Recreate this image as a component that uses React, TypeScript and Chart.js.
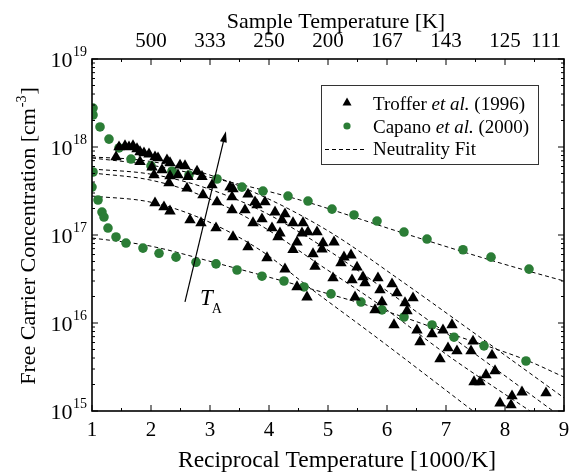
import React, { useEffect, useRef } from 'react';
import { Chart, registerables } from 'chart.js';

Chart.register(...registerables);

const FONT = '"Liberation Serif", "Times New Roman", Times, serif';
const GREEN = '#2b7d36';

// ---- axis ticks ----
const xTicks = [1, 2, 3, 4, 5, 6, 7, 8, 9];
const xMinorTicks = [1.5, 2.5, 3.5, 4.5, 5.5, 6.5, 7.5, 8.5];
const topTickValues = [2, 3, 4, 5, 6, 7, 8, 9];
const topTickLabels = ['500', '333', '250', '200', '167', '143', '125', '111'];
const yDecades = [15, 16, 17, 18, 19];
const yMinorMultipliers = [2, 3, 4, 5, 6, 7, 8, 9];

// ---- data: [1000/T, carrier concentration] ----
const trofferPoints: number[][] = [
  [1.458, 1.0e18], [1.559, 1.03e18], [1.627, 1.0e18], [1.695, 1.03e18], [1.763, 9.5e17],
  [1.814, 8.8e17], [1.881, 8.55e17], [1.966, 8.3e17], [2.068, 7.7e17], [2.119, 7.5e17],
  [2.271, 7.1e17], [2.322, 6.6e17], [2.492, 6.2e17], [2.576, 6.1e17], [2.78, 5.3e17],
  [2.864, 4.6e17], [1.407, 7.7e17], [1.814, 6.8e17], [2.017, 5.9e17], [2.186, 5.5e17],
  [2.051, 4.8e17], [2.322, 4.7e17], [2.458, 4.8e17], [2.627, 4.6e17], [2.305, 3.9e17],
  [2.61, 3.4e17], [3.034, 3.7e17], [2.881, 2.85e17], [3.119, 2.37e17], [3.339, 3.5e17],
  [3.39, 3.33e17], [3.373, 2.7e17], [3.644, 2.9e17], [3.763, 2.37e17], [3.932, 2.37e17],
  [3.373, 1.92e17], [3.593, 1.92e17], [3.797, 2.19e17], [4.102, 1.82e17], [3.881, 1.52e17],
  [3.729, 1.37e17], [4.051, 1.2e17], [4.153, 9.5e16], [2.068, 2.31e17], [2.22, 2.08e17],
  [2.322, 1.87e17], [2.661, 1.48e17], [2.847, 1.37e17], [3.102, 1.2e17], [3.39, 9.5e16],
  [3.644, 7.3e16], [3.966, 5.5e16], [4.271, 1.73e17], [4.22, 1.48e17], [4.407, 1.37e17],
  [4.576, 1.37e17], [4.186, 1.05e17], [4.559, 1.05e17], [4.661, 1.08e17], [4.814, 1.08e17],
  [4.407, 6.8e16], [4.475, 8.3e16], [4.915, 8.1e16], [4.898, 6.9e16], [5.102, 8.3e16],
  [4.746, 6.1e16], [4.78, 4.4e16], [5.271, 5.6e16], [5.39, 5.9e16], [5.22, 4.8e16],
  [5.492, 4.3e16], [5.085, 3.24e16], [5.407, 3.08e16], [5.593, 3.33e16], [5.627, 2.85e16],
  [5.847, 3.24e16], [6.085, 2.77e16], [5.881, 2.37e16], [6.169, 2.19e16], [6.441, 1.92e16],
  [6.305, 1.69e16], [5.458, 1.97e16], [5.915, 1.73e16], [5.797, 1.41e16], [4.271, 4.1e16],
  [4.475, 2.57e16], [4.644, 1.97e16], [6.339, 1.37e16], [6.508, 8.3e15], [6.559, 6.1e15],
  [6.763, 7.5e15], [6.949, 8.3e15], [7.102, 9.5e15], [7.034, 5.2e15], [7.186, 4.8e15],
  [6.898, 3.9e15], [7.458, 6.2e15], [7.424, 4.8e15], [7.78, 4.3e15], [7.831, 2.85e15],
  [7.678, 2.57e15], [7.576, 2.14e15], [7.475, 2.14e15], [8.288, 1.64e15], [8.119, 1.48e15],
  [8.695, 1.6e15], [7.915, 1.23e15], [8.102, 1.17e15], [6.119, 9.5e15],
];

const capanoPoints: number[][] = [
  [1.017, 2.77e18], [1.017, 2.31e18], [1.136, 1.69e18], [1.288, 1.23e18], [1.458, 9.75e17],
  [1.661, 7.3e17], [2.0, 6.1e17], [2.356, 5.3e17], [2.644, 4.8e17], [3.119, 4.33e17],
  [3.542, 3.5e17], [3.898, 3.16e17], [4.322, 2.77e17], [4.661, 2.43e17], [5.068, 1.97e17],
  [5.441, 1.69e17], [5.831, 1.44e17], [6.288, 1.08e17], [6.678, 9.0e16], [7.288, 6.8e16],
  [7.763, 5.6e16], [8.407, 4.1e16],
  [1.017, 5.2e17], [1.0, 3.5e17], [1.102, 2.5e17], [1.169, 1.82e17], [1.203, 1.6e17],
  [1.271, 1.2e17], [1.407, 9.5e16], [1.576, 8.1e16], [1.864, 7.1e16], [2.136, 6.2e16],
  [2.424, 5.6e16], [2.763, 4.9e16], [3.102, 4.7e16], [3.458, 4.0e16], [3.881, 3.4e16],
  [4.254, 3.0e16], [4.593, 2.57e16], [5.051, 2.14e16], [5.559, 1.73e16], [5.915, 1.41e16],
  [6.288, 1.17e16], [6.763, 9.5e15], [7.136, 6.9e15], [7.644, 5.5e15], [8.356, 3.7e15],
];

// ---- neutrality fits ----
const fitTroffer1: number[][] = [
  [1, 7.7e17], [1.814, 7.11e17], [2.831, 5.2e17], [3.847, 2.85e17], [5.034, 1.08e17],
  [6.22, 3.08e16], [7.407, 8.32e15], [9, 1.41e15],
];
const fitTroffer2: number[][] = [
  [1, 5.62e17], [1.983, 4.93e17], [2.831, 3.6e17], [3.847, 1.92e17], [4.864, 7.7e16],
  [6.051, 2.19e16], [7.237, 5.93e15], [8.814, 1.0e15],
];
const fitTroffer3: number[][] = [
  [1, 5.07e17], [1.983, 4.22e17], [2.831, 2.85e17], [3.847, 1.3e17], [4.864, 4.56e16],
  [5.881, 1.6e16], [7.068, 4.11e15], [8.424, 1.0e15],
];
const fitTroffer4: number[][] = [
  [1, 2.77e17], [1.983, 2.37e17], [2.831, 1.56e17], [3.847, 6.76e16], [4.695, 2.5e16],
  [5.881, 6.41e15], [7.458, 1.0e15],
];
const fitCapanoHigh: number[][] = [
  [1, 7.5e17], [1.983, 6.24e17], [3.119, 4.33e17], [4.525, 2.5e17], [6.22, 1.08e17],
  [7.915, 4.81e16], [9, 3.0e16],
];
const fitCapanoLow: number[][] = [
  [1, 9.25e16], [1.983, 7.5e16], [3.102, 4.81e16], [4.593, 2.57e16], [5.915, 1.41e16],
  [7.136, 7.31e15], [8.356, 3.8e15], [9, 2.43e15],
];
const fitLines = [fitTroffer1, fitTroffer2, fitTroffer3, fitTroffer4, fitCapanoHigh, fitCapanoLow];

// ---- annotation ----
const arrowFrom = [2.576, 1.74e16];
const arrowTo = [3.27, 1.51e18];
const annotationPos = [2.83, 1.6e16];

const legendEntries = [
  { marker: 'triangle', parts: [['Troffer ', false], ['et al.', true], [' (1996)', false]] },
  { marker: 'circle', parts: [['Capano ', false], ['et al.', true], [' (2000)', false]] },
  { marker: 'dash', parts: [['Neutrality Fit', false]] },
];

const toXY = (pts: number[][]) => pts.map(([x, y]) => ({ x, y }));

function drawParts(ctx: CanvasRenderingContext2D, parts: any[], x: number, y: number, size: number) {
  let cx = x;
  for (const [txt, italic] of parts) {
    ctx.font = `${italic ? 'italic ' : ''}${size}px ${FONT}`;
    ctx.fillText(txt, cx, y);
    cx += ctx.measureText(txt).width;
  }
}

const decorPlugin = {
  id: 'decor',
  afterDatasetsDraw(chart: any) {
    const { ctx, chartArea: ca, scales } = chart;
    const xs = scales.x;
    const ys = scales.y;
    ctx.save();
    ctx.strokeStyle = '#000';
    ctx.fillStyle = '#000';
    ctx.lineWidth = 1;
    ctx.beginPath();
    const seg = (x1: number, y1: number, x2: number, y2: number) => {
      ctx.moveTo(x1, y1);
      ctx.lineTo(x2, y2);
    };
    xTicks.forEach((v) => {
      const px = xs.getPixelForValue(v);
      seg(px, ca.bottom, px, ca.bottom - 6);
      seg(px, ca.top, px, ca.top + 6);
    });
    xMinorTicks.forEach((v) => {
      const px = xs.getPixelForValue(v);
      seg(px, ca.bottom, px, ca.bottom - 3);
      seg(px, ca.top, px, ca.top + 3);
    });
    yDecades.forEach((d) => {
      const py = ys.getPixelForValue(Math.pow(10, d));
      seg(ca.left, py, ca.left + 6, py);
      seg(ca.right, py, ca.right - 6, py);
      if (d < 19) {
        yMinorMultipliers.forEach((m) => {
          const p = ys.getPixelForValue(m * Math.pow(10, d));
          seg(ca.left, p, ca.left + 3, p);
          seg(ca.right, p, ca.right - 3, p);
        });
      }
    });
    ctx.stroke();
    ctx.lineWidth = 1.6;
    ctx.strokeRect(ca.left, ca.top, ca.right - ca.left, ca.bottom - ca.top);

    // arrow
    const x1 = xs.getPixelForValue(arrowFrom[0]);
    const y1 = ys.getPixelForValue(arrowFrom[1]);
    const x2 = xs.getPixelForValue(arrowTo[0]);
    const y2 = ys.getPixelForValue(arrowTo[1]);
    const ang = Math.atan2(y2 - y1, x2 - x1);
    const hl = 11;
    const hw = 3.5;
    const bx = x2 - hl * Math.cos(ang);
    const by = y2 - hl * Math.sin(ang);
    ctx.lineWidth = 1.2;
    ctx.beginPath();
    ctx.moveTo(x1, y1);
    ctx.lineTo(bx, by);
    ctx.stroke();
    ctx.beginPath();
    ctx.moveTo(x2, y2);
    ctx.lineTo(bx + hw * Math.sin(ang), by - hw * Math.cos(ang));
    ctx.lineTo(bx - hw * Math.sin(ang), by + hw * Math.cos(ang));
    ctx.closePath();
    ctx.fill();

    // T_A
    const tx = xs.getPixelForValue(annotationPos[0]);
    const ty = ys.getPixelForValue(annotationPos[1]);
    ctx.textAlign = 'left';
    ctx.textBaseline = 'alphabetic';
    ctx.font = `italic 23px ${FONT}`;
    ctx.fillText('T', tx, ty);
    const tw = ctx.measureText('T').width;
    ctx.font = `14px ${FONT}`;
    ctx.fillText('A', tx + tw - 1, ty + 8);
    ctx.restore();
  },
  afterDraw(chart: any) {
    const { ctx, chartArea: ca, scales } = chart;
    const xs = scales.x;
    const ys = scales.y;
    ctx.save();
    ctx.fillStyle = '#000';
    ctx.textBaseline = 'alphabetic';

    // bottom tick labels
    ctx.font = `21px ${FONT}`;
    ctx.textAlign = 'center';
    xTicks.forEach((v) => {
      ctx.fillText(String(v), xs.getPixelForValue(v), ca.bottom + 25);
    });
    // top tick labels
    topTickValues.forEach((v, i) => {
      const lab = topTickLabels[i];
      const w = ctx.measureText(lab).width;
      let cx = xs.getPixelForValue(v);
      if (cx + w / 2 > chart.width - 12) cx = chart.width - 12 - w / 2;
      ctx.fillText(lab, cx, ca.top - 12);
    });
    // y tick labels 10^n
    yDecades.forEach((d) => {
      const py = ys.getPixelForValue(Math.pow(10, d));
      ctx.font = `14px ${FONT}`;
      ctx.textAlign = 'left';
      const e = String(d);
      const ew = ctx.measureText(e).width;
      const ex = ca.left - 5 - ew;
      ctx.fillText(e, ex, py - 3);
      ctx.font = `22px ${FONT}`;
      ctx.textAlign = 'right';
      ctx.fillText('10', ex - 0.5, py + 8);
    });
    // axis titles
    ctx.textAlign = 'center';
    ctx.font = `23.5px ${FONT}`;
    ctx.fillText('Reciprocal Temperature [1000/K]', 337, 467);
    ctx.font = `22px ${FONT}`;
    ctx.fillText('Sample Temperature [K]', 336, 28);

    // y title with superscript
    ctx.save();
    ctx.translate(35, (ca.top + ca.bottom) / 2 + 1);
    ctx.rotate(-Math.PI / 2);
    ctx.textAlign = 'left';
    const main = 'Free Carrier Concentration [cm';
    ctx.font = `22px ${FONT}`;
    const mw = ctx.measureText(main).width;
    ctx.font = `14px ${FONT}`;
    const sw = ctx.measureText('-3').width;
    ctx.font = `22px ${FONT}`;
    const bw = ctx.measureText(']').width;
    const total = mw + sw + bw + 2;
    let cx = -total / 2;
    ctx.fillText(main, cx, 0);
    cx += mw + 1;
    ctx.font = `14px ${FONT}`;
    ctx.fillText('-3', cx, -9);
    cx += sw + 1;
    ctx.font = `22px ${FONT}`;
    ctx.fillText(']', cx, 0);
    ctx.restore();

    // legend
    const lx = 321;
    const ly = 85;
    const lw = 217;
    const lh = 79;
    ctx.fillStyle = '#fff';
    ctx.fillRect(lx, ly, lw, lh);
    ctx.strokeStyle = '#333';
    ctx.lineWidth = 1;
    ctx.strokeRect(lx + 0.5, ly + 0.5, lw, lh);
    const rows = [110, 133, 155];
    const mk = [102, 126, 149];
    legendEntries.forEach((entry, i) => {
      ctx.fillStyle = '#000';
      ctx.strokeStyle = '#000';
      if (entry.marker === 'triangle') {
        ctx.beginPath();
        ctx.moveTo(347, mk[i] - 4.5);
        ctx.lineTo(351.5, mk[i] + 3.5);
        ctx.lineTo(342.5, mk[i] + 3.5);
        ctx.closePath();
        ctx.fill();
      } else if (entry.marker === 'circle') {
        ctx.fillStyle = GREEN;
        ctx.beginPath();
        ctx.arc(347, mk[i], 3.6, 0, Math.PI * 2);
        ctx.fill();
        ctx.fillStyle = '#000';
      } else {
        ctx.save();
        ctx.lineWidth = 1;
        ctx.setLineDash([4, 3]);
        ctx.beginPath();
        ctx.moveTo(325, mk[i] + 0.5);
        ctx.lineTo(364, mk[i] + 0.5);
        ctx.stroke();
        ctx.restore();
      }
      ctx.textAlign = 'left';
      drawParts(ctx, entry.parts, 373, rows[i], 19);
    });
    ctx.restore();
  },
};

export default function App() {
  const ref = useRef<HTMLCanvasElement>(null);
  useEffect(() => {
    const prev = document.body.style.margin;
    document.body.style.margin = '0';
    const datasets: any[] = [
      {
        label: 'Troffer et al. (1996)',
        data: toXY(trofferPoints),
        pointStyle: 'triangle',
        pointRadius: 6.6,
        backgroundColor: '#000',
        borderColor: '#000',
        borderWidth: 0,
        showLine: false,
        order: 1,
      },
      {
        label: 'Capano et al. (2000)',
        data: toXY(capanoPoints),
        pointStyle: 'circle',
        pointRadius: 4.8,
        backgroundColor: GREEN,
        borderColor: GREEN,
        borderWidth: 0,
        showLine: false,
        order: 2,
        clip: 0,
      },
      ...fitLines.map((f, i) => ({
        label: 'Neutrality Fit ' + (i + 1),
        data: toXY(f),
        showLine: true,
        pointRadius: 0,
        borderColor: '#000',
        borderWidth: 1,
        borderDash: [4, 3],
        cubicInterpolationMode: 'monotone',
        fill: false,
        order: 3,
        clip: 0,
      })),
    ];
    const chart = new Chart(ref.current as HTMLCanvasElement, {
      type: 'scatter',
      data: { datasets },
      options: {
        animation: false,
        responsive: false,
        devicePixelRatio: 1,
        events: [],
        layout: { padding: { left: 92, right: 9, top: 59, bottom: 65 } },
        plugins: { legend: { display: false }, tooltip: { enabled: false } },
        scales: {
          x: { type: 'linear', min: 1, max: 9, display: false },
          y: { type: 'logarithmic', min: 1e15, max: 1e19, display: false },
        },
      },
      plugins: [decorPlugin],
    } as any);
    return () => {
      chart.destroy();
      document.body.style.margin = prev;
    };
  }, []);
  return (
    <div style={{ width: 573, height: 476, background: '#fff' }}>
      <canvas ref={ref} width={573} height={476} style={{ display: 'block', width: 573, height: 476 }} />
    </div>
  );
}
